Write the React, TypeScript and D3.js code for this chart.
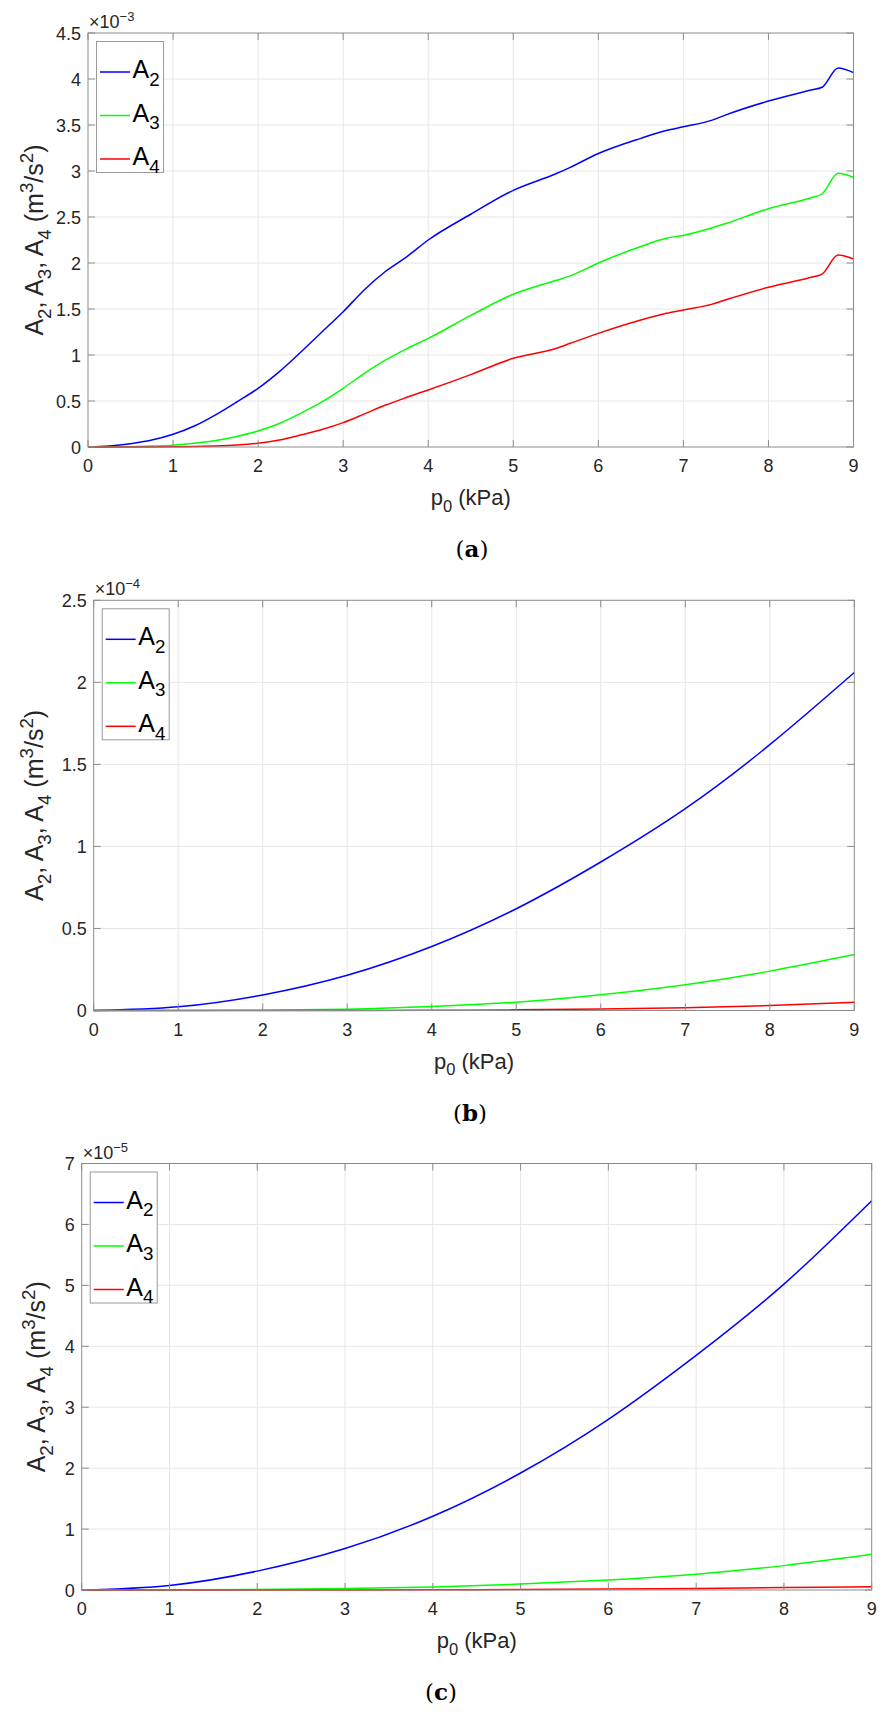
import * as d3 from 'd3';

// x positions (kPa)
const xA = [0, 0.25, 0.5, 0.75, 1, 1.25, 1.5, 1.75, 2, 2.25, 2.5, 2.75, 3, 3.25, 3.5, 3.75, 4, 4.5, 5, 5.5, 5.67, 6, 6.5, 6.8, 7, 7.33, 7.5, 8, 8.5, 8.63, 8.82, 9];
const xBC = [0, 1, 2, 3, 4, 5, 6, 7, 8, 9];

// panel (a), x1e-3
const a2 = [0, 0.01, 0.035, 0.075, 0.138, 0.228, 0.35, 0.49, 0.638, 0.82, 1.03, 1.25, 1.47, 1.71, 1.91, 2.07, 2.25, 2.53, 2.79, 2.97, 3.04, 3.19, 3.355, 3.44, 3.48, 3.55, 3.61, 3.76, 3.88, 3.91, 4.12, 4.07];
const a3 = [0, 0, 0.003, 0.01, 0.02, 0.04, 0.07, 0.115, 0.174, 0.255, 0.366, 0.49, 0.638, 0.8, 0.946, 1.07, 1.18, 1.43, 1.66, 1.81, 1.86, 2.0, 2.18, 2.27, 2.3, 2.38, 2.43, 2.59, 2.71, 2.75, 2.975, 2.93];
const a4 = [0, 0, 0, 0.001, 0.003, 0.006, 0.012, 0.022, 0.04, 0.075, 0.13, 0.19, 0.265, 0.36, 0.456, 0.54, 0.62, 0.787, 0.964, 1.07, 1.127, 1.235, 1.38, 1.453, 1.49, 1.55, 1.6, 1.736, 1.845, 1.88, 2.087, 2.043];

// panel (b), x1e-4
const b2 = [0, 0.023, 0.095, 0.215, 0.39, 0.62, 0.905, 1.23, 1.62, 2.06];
const b3 = [0, 0, 0.002, 0.008, 0.024, 0.051, 0.096, 0.157, 0.24, 0.341];
const b4 = [0, 0, 0, 0.0005, 0.0015, 0.004, 0.009, 0.017, 0.03, 0.051];

// panel (c), x1e-5
const c2 = [0, 0.075, 0.31, 0.68, 1.21, 1.92, 2.8, 3.85, 5.02, 6.39];
const c3 = [0, 0.001, 0.008, 0.025, 0.05, 0.098, 0.165, 0.26, 0.4, 0.585];
const c4 = [0, 0, 0.0005, 0.0015, 0.004, 0.008, 0.015, 0.025, 0.04, 0.055];

const xTicks = [0, 1, 2, 3, 4, 5, 6, 7, 8, 9];
const seriesNames = ['2', '3', '4'];
const colors = ['#0000ff', '#00ff00', '#ff0000'];

const SANS = '"Liberation Sans", Arial, Helvetica, sans-serif';
const AX = '#8c8c8c';
const TXT = '#262626';

type Part = { t: string; s?: 'sub' | 'sup' };

function rich(parts: Part[], size: number) {
  let shift = 0;
  return parts.map((pt, i) => {
    const target = pt.s === 'sub' ? size * 0.3 : pt.s === 'sup' ? -size * 0.42 : 0;
    const dy = target - shift;
    shift = target;
    return (
      <tspan key={i} dy={dy} fontSize={pt.s ? size * 0.75 : size}>
        {pt.t}
      </tspan>
    );
  });
}

const yLabel: Part[] = [
  { t: 'A' }, { t: '2', s: 'sub' }, { t: ', A' }, { t: '3', s: 'sub' }, { t: ', A' }, { t: '4', s: 'sub' },
  { t: ' (m' }, { t: '3', s: 'sup' }, { t: '/s' }, { t: '2', s: 'sup' }, { t: ')' },
];
const xLabel: Part[] = [{ t: 'p' }, { t: '0', s: 'sub' }, { t: ' (kPa)' }];

interface Spec {
  left: number; right: number; top: number; bottom: number;
  yMax: number; yStep: number; exp: string; caption: string; capX: number;
  ylabX: number; xs: number[]; ys: number[][]; curve: d3.CurveFactory;
}

const panels: Spec[] = [
  { left: 88, right: 853.5, top: 33, bottom: 447, yMax: 4.5, yStep: 0.5, exp: '\u22123', caption: 'a', capX: 472, ylabX: 43, xs: xA, ys: [a2, a3, a4], curve: d3.curveMonotoneX },
  { left: 93.7, right: 854.3, top: 600.3, bottom: 1010.5, yMax: 2.5, yStep: 0.5, exp: '\u22124', caption: 'b', capX: 470, ylabX: 43, xs: xBC, ys: [b2, b3, b4], curve: d3.curveNatural },
  { left: 81.7, right: 871.7, top: 1163.5, bottom: 1590, yMax: 7, yStep: 1, exp: '\u22125', caption: 'c', capX: 441, ylabX: 45, xs: xBC, ys: [c2, c3, c4], curve: d3.curveNatural },
];

function Panel({ p }: { p: Spec }) {
  const x = d3.scaleLinear().domain([0, 9]).range([p.left, p.right]);
  const y = d3.scaleLinear().domain([0, p.yMax]).range([p.bottom, p.top]);
  const yTicks = d3.range(0, p.yMax + 1e-9, p.yStep);
  const tl = 7;
  const line = (vals: number[]) =>
    d3.line<number>().x((_, i) => x(p.xs[i])).y(d => y(d)).curve(p.curve)(vals) || '';
  const lg = { x: p.left + 8.5, y: p.top + 8.5, w: 67, h: 131 };
  const rows = [30.5, 74, 117.5];
  const cx = (p.left + p.right) / 2;
  const cy = (p.top + p.bottom) / 2;
  return (
    <g>
      {/* grid */}
      {xTicks.slice(1, -1).map(t => (
        <line key={'gx' + t} x1={x(t)} x2={x(t)} y1={p.top} y2={p.bottom} stroke="#e6e6e6" />
      ))}
      {yTicks.slice(1, -1).map(t => (
        <line key={'gy' + t} x1={p.left} x2={p.right} y1={y(t)} y2={y(t)} stroke="#e6e6e6" />
      ))}
      {/* series */}
      {p.ys.map((vals, i) => (
        <path key={'s' + i} d={line(vals)} fill="none" stroke={colors[i]} strokeWidth={1.5} />
      ))}
      {/* box and ticks */}
      <rect x={p.left} y={p.top} width={p.right - p.left} height={p.bottom - p.top} fill="none" stroke={AX} />
      {xTicks.map(t => (
        <g key={'tx' + t}>
          <line x1={x(t)} x2={x(t)} y1={p.bottom} y2={p.bottom - tl} stroke={AX} />
          <line x1={x(t)} x2={x(t)} y1={p.top} y2={p.top + tl} stroke={AX} />
          <text x={x(t)} y={p.bottom + 25} textAnchor="middle" fontSize={18} fill={TXT} fontFamily={SANS}>{t}</text>
        </g>
      ))}
      {yTicks.map(t => (
        <g key={'ty' + t}>
          <line x1={p.left} x2={p.left + tl} y1={y(t)} y2={y(t)} stroke={AX} />
          <line x1={p.right} x2={p.right - tl} y1={y(t)} y2={y(t)} stroke={AX} />
          <text x={p.left - 7} y={y(t) + 6.5} textAnchor="end" fontSize={18} fill={TXT} fontFamily={SANS}>
            {String(+t.toFixed(1))}
          </text>
        </g>
      ))}
      {/* exponent */}
      <text x={p.left + 1} y={p.top - 5} fontSize={18} fill={TXT} fontFamily={SANS}>
        <tspan>{'\u00d710'}</tspan>
        <tspan dy={-7} fontSize={13}>{p.exp}</tspan>
      </text>
      {/* legend */}
      <rect x={lg.x} y={lg.y} width={lg.w} height={lg.h} fill="#fff" stroke="#999" />
      {seriesNames.map((n, i) => (
        <g key={'l' + n}>
          <line x1={lg.x + 3.5} x2={lg.x + 33.5} y1={lg.y + rows[i]} y2={lg.y + rows[i]} stroke={colors[i]} strokeWidth={1.5} />
          <text x={lg.x + 36} y={lg.y + rows[i] + 6} fontSize={25} fill="#000" fontFamily={SANS}>
            {rich([{ t: 'A' }, { t: n, s: 'sub' }], 25)}
          </text>
        </g>
      ))}
      {/* axis labels */}
      <text x={cx} y={p.bottom + 58} textAnchor="middle" fontSize={22} fill={TXT} fontFamily={SANS}>
        {rich(xLabel, 22)}
      </text>
      <text transform={`translate(${p.ylabX},${cy}) rotate(-90)`} textAnchor="middle" fontSize={25} fill={TXT} fontFamily={SANS}>
        {rich(yLabel, 25)}
      </text>
      {/* caption */}
      <text x={p.capX} y={p.bottom + 110} textAnchor="middle" fontSize={23} fill="#000" fontFamily='"DejaVu Serif", "Liberation Serif", serif'>
        <tspan>(</tspan>
        <tspan fontWeight="bold">{p.caption}</tspan>
        <tspan>)</tspan>
      </text>
    </g>
  );
}

export default function App() {
  return (
    <svg width={885} height={1716} viewBox="0 0 885 1716" style={{ position: 'absolute', left: 0, top: 0, background: '#fff' }}>
      <rect width={885} height={1716} fill="#fff" />
      {panels.map((p, i) => (
        <Panel key={i} p={p} />
      ))}
    </svg>
  );
}
